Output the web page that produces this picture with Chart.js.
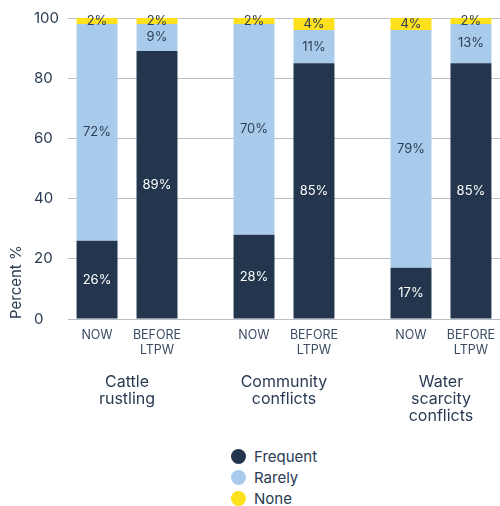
<!DOCTYPE html>
<html><head><meta charset="utf-8">
<script src="https://cdn.jsdelivr.net/npm/chart.js@4.4.0/dist/chart.umd.min.js"></script>
<style>
html,body{margin:0;padding:0;background:#fff;overflow:hidden;}
#wrap{position:relative;width:500px;height:506px;}
#c{position:absolute;left:0;top:0;}
#legend{position:absolute;left:231px;top:446px;font-family:Inter,sans-serif;font-size:15px;color:#2a3b52;}
.item{display:flex;align-items:center;height:21px;}
.dot{width:15px;height:15px;border-radius:50%;margin-right:8px;flex:none;}
</style></head><body>
<div id="wrap"><canvas id="c" width="500" height="440"></canvas><div id="legend"></div></div>
<script>
// ---- data ----
const groups = [['Cattle','rustling'],['Community','conflicts'],['Water','scarcity','conflicts']];
const periods = ['NOW', 'BEFORE\nLTPW'];
const seriesNames = ['Frequent','Rarely','None'];
const nowFrequent = [26, 28, 17];
const nowRarely   = [72, 70, 79];
const nowNone     = [2, 2, 4];
const beforeFrequent = [89, 85, 85];
const beforeRarely   = [9, 11, 13];
const beforeNone     = [2, 4, 2];
const yTicks = [0, 20, 40, 60, 80, 100];

// ---- styles ----
const colors = ['#23364e', '#a9cbeb', '#ffe01c'];
const valueColors = ['#ffffff', '#2e3f57', '#2e3f57'];
const textColor = '#2a3b52';
const gridColor = '#b7bec8';
const FONT = 'Inter, sans-serif';

const nowSeries = [nowFrequent, nowRarely, nowNone];
const beforeSeries = [beforeFrequent, beforeRarely, beforeNone];

const datasets = [];
[['now', nowSeries], ['before', beforeSeries]].forEach(([stack, arr]) => {
  arr.forEach((vals, s) => {
    datasets.push({
      label: seriesNames[s],
      data: vals,
      stack: stack,
      backgroundColor: colors[s],
      borderWidth: 0,
      categoryPercentage: 0.764,
      barPercentage: 0.683,
      seriesIndex: s
    });
  });
});

const labelPlugin = {
  id: 'labels',
  afterDatasetsDraw(chart) {
    const ctx = chart.ctx;
    ctx.save();
    chart.data.datasets.forEach((ds, di) => {
      const meta = chart.getDatasetMeta(di);
      meta.data.forEach((el, i) => {
        const v = ds.data[i];
        const cy = (el.y + el.base) / 2;
        ctx.font = '13px ' + FONT;
        ctx.fillStyle = valueColors[ds.seriesIndex];
        ctx.textAlign = 'center';
        ctx.textBaseline = 'middle';
        ctx.fillText(v + '%', el.x, cy);
      });
    });
    // sub labels under each bar
    const bottom = chart.chartArea.bottom;
    ['now', 'before'].forEach((stack, p) => {
      const di = chart.data.datasets.findIndex(d => d.stack === stack);
      const meta = chart.getDatasetMeta(di);
      meta.data.forEach(el => {
        ctx.font = '12.5px ' + FONT;
        ctx.fillStyle = '#3b4c63';
        ctx.textAlign = 'center';
        ctx.textBaseline = 'alphabetic';
        periods[p].split('\n').forEach((line, li) => {
          ctx.fillText(line, el.x, bottom + 19.5 + li * 15);
        });
      });
    });
    ctx.restore();
  }
};

new Chart(document.getElementById('c'), {
  type: 'bar',
  data: { labels: groups.map((g, i) => i), datasets },
  options: {
    responsive: false,
    animation: false,
    layout: { padding: { top: 18, right: 0, left: 0, bottom: 0 } },
    plugins: {
      legend: { display: false },
      tooltip: { enabled: false },
      title: {
        display: true,
        text: 'Percent %',
        position: 'left',
        align: 'start',
        fullSize: false,
        color: textColor,
        font: { family: FONT, size: 15, weight: 'normal', lineHeight: 1.2 },
        padding: { top: 7, bottom: 9 }
      }
    },
    scales: {
      x: {
        type: 'linear',
        offset: false,
        min: -0.376,
        max: 2.376,
        afterBuildTicks: s => { s.ticks = groups.map((g, i) => ({ value: i })); },
        afterFit: s => { s.height = 121; s.paddingLeft = 0; s.paddingRight = 0; },
        grid: { display: false, drawTicks: false },
        border: { display: true, color: gridColor, width: 1 },
        ticks: {
          padding: 55,
          autoSkip: false,
          maxRotation: 0,
          color: textColor,
          font: { family: FONT, size: 16, lineHeight: 1.05 },
          callback: (v, i) => groups[i]
        }
      },
      y: {
        stacked: true,
        min: 0,
        max: 100,
        afterBuildTicks: s => { s.ticks = yTicks.map(v => ({ value: v })); },
        afterFit: s => { s.width = 34; },
        grid: { color: gridColor, drawTicks: false, lineWidth: 1 },
        border: { display: false },
        ticks: {
          padding: 7,
          crossAlign: 'far',
          color: textColor,
          font: { family: FONT, size: 15 }
        }
      }
    }
  },
  plugins: [labelPlugin]
});

const legend = document.getElementById('legend');
seriesNames.forEach((name, s) => {
  const item = document.createElement('div');
  item.className = 'item';
  const dot = document.createElement('span');
  dot.className = 'dot';
  dot.style.background = colors[s];
  const txt = document.createElement('span');
  txt.textContent = name;
  item.appendChild(dot);
  item.appendChild(txt);
  legend.appendChild(item);
});
</script>
</body></html>
